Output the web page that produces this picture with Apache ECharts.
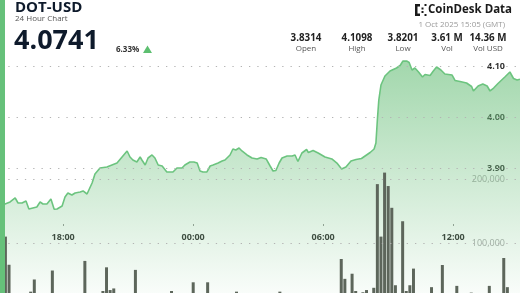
<!DOCTYPE html>
<html><head><meta charset="utf-8">
<script src="https://cdn.jsdelivr.net/npm/echarts@6/dist/echarts.min.js"></script>
<style>html,body{margin:0;padding:0;background:#fff}#c{width:520px;height:293px}</style>
</head><body><div id="c"></div>
<script>
// minutes since 30 Sep 15:05 (GMT)
const priceMinutes = [0,14,28,42,50,61,72,80,91,102,111,119,130,141,150,158,172,180,188,199,208,222,230,241,255,263,277,296,310,324,338,352,360,368,379,388,393,402,410,421,429,438,449,454,462,471,479,490,504,512,526,537,546,554,562,573,582,590,604,615,623,637,645,653,662,670,684,698,712,723,737,748,756,764,773,781,795,809,817,825,836,849,854,867,881,900,919,933,946,958,972,986,1001,1015,1025,1036,1041,1045,1049,1055,1066,1080,1098,1108,1116,1127,1133,1141,1149,1159,1170,1177,1191,1200,1209,1221,1232,1252,1260,1274,1292,1306,1311,1324,1337,1349,1357,1367,1379,1398,1412,1422,1432,1440];
const prices = [3.8314,3.8305,3.8344,3.8422,3.8324,3.8324,3.8363,3.8207,3.8227,3.8246,3.8344,3.8305,3.8305,3.8402,3.8201,3.8207,3.8266,3.8441,3.8520,3.8480,3.8520,3.8539,3.8559,3.8500,3.8715,3.8891,3.9008,3.9027,3.9066,3.9105,3.9223,3.9340,3.9223,3.9164,3.9125,3.9223,3.9164,3.9066,3.9203,3.9262,3.9203,3.9066,3.9047,3.9066,3.8930,3.8930,3.8930,3.9008,3.9008,3.9066,3.9125,3.9125,3.9105,3.8949,3.8930,3.8930,3.9047,3.9066,3.9105,3.9145,3.9164,3.9262,3.9379,3.9359,3.9398,3.9340,3.9262,3.9203,3.9184,3.9213,3.9184,3.9047,3.8949,3.8959,3.9105,3.9203,3.9242,3.9242,3.9262,3.9135,3.9301,3.9369,3.9311,3.9350,3.9301,3.9223,3.9184,3.9105,3.8988,3.9027,3.9145,3.9174,3.9194,3.9262,3.9311,3.9379,3.9496,3.9945,4.0336,4.0629,4.0805,4.0902,4.0961,4.1010,4.1098,4.1095,4.1068,4.0922,4.0961,4.0883,4.0785,4.0834,4.0814,4.0902,4.0980,4.0922,4.0844,4.0824,4.0717,4.0697,4.0668,4.0600,4.0512,4.0609,4.0648,4.0609,4.0512,4.0570,4.0658,4.0785,4.0883,4.0756,4.0727,4.0741];
// 10-minute volume buckets (DOT)
const volumes = [18000,110000,66000,12000,9000,15000,8000,11000,24000,43000,
  14000,10000,7000,16000,57000,12000,9000,13000,8000,10000,
  6000,11000,15000,72000,13000,9000,12000,17000,25000,62000,
  26500,29000,14000,10000,8000,12000,16000,58000,11000,9000,
  7000,13000,10000,8000,12000,15000,9000,25000,11000,8000,
  6000,10000,14000,38600,12000,9000,11000,38600,13000,8000,
  7000,10000,12000,9000,15000,24000,11000,8000,6000,9000,
  10000,7000,12000,8000,11000,14000,9000,24000,10000,7000,
  9000,12000,8000,11000,13000,7000,10000,9000,14000,12000,
  16000,11000,18000,15000,75000,44000,20000,52000,25000,17000,
  23000,26500,19000,30000,192000,110000,210000,189000,155000,34000,
  21000,134000,25000,34000,60000,18000,14000,12000,16000,31000,
  13000,15000,65600,12000,10000,17000,33000,11000,9000,14000,
  22500,12000,10000,8000,13000,33000,11000,15000,12000,76600,
  31000,14000,10000,12000];
const priceTicks = [3.9, 4.0, 4.1];
const volTicks = [100000, 200000];
const timeTicks = [175, 535, 895, 1255]; // 18:00, 00:00, 06:00, 12:00
const header = {symbol:'DOT-USD', sub:'24 Hour Chart', last:'4.0741', change:'6.33%', date:'1 Oct 2025 15:05 (GMT)'};
const statValues = ['3.8314','4.1098','3.8201','3.61 M','14.36 M'];
const statLabels = ['Open','High','Low','Vol','Vol USD'];

const FONT = "'Open Sans', 'Noto Sans', sans-serif";
const chart = echarts.init(document.getElementById('c'), null, {renderer:'canvas'});
const dotted = {color:'#b3b3b3', width:1, type:[1.3,7]};
const fmtTime = m => { const t = (905 + m) % 1440; const h = Math.floor(t/60), mm = t % 60; return String(h).padStart(2,'0') + ':' + String(mm).padStart(2,'0'); };

const statX = [306, 357, 403, 447, 488];
const txt = (s, x, y, font, fill, align) => ({type:'text', x:x, y:y, style:{text:s, font:font, fill:fill, align:align||'left', verticalAlign:'middle'}});
const graphic = [
  txt(header.symbol, 15, 7.5, 'bold 15px ' + FONT, '#0e1a2b'),
  txt(header.sub, 15, 18.5, '8px ' + FONT, '#555'),
  txt(header.last, 14, 41.5, 'bold 27px ' + FONT, '#0e1a2b'),
  txt(header.change, 116, 49.5, 'bold 8px ' + FONT, '#333'),
  {type:'polygon', shape:{points:[[143,53],[152,53],[147.5,45.5]]}, style:{fill:'#5dbf70'}},
  // CoinDesk Data logo
  {type:'rect', shape:{x:415, y:4, width:2.5, height:12}, style:{fill:'#1a1a1a'}},
  {type:'rect', shape:{x:415, y:4, width:5, height:2.5}, style:{fill:'#1a1a1a'}},
  {type:'rect', shape:{x:415, y:13.5, width:5, height:2.5}, style:{fill:'#1a1a1a'}},
  {type:'rect', shape:{x:421.5, y:7.5, width:2, height:2}, style:{fill:'#1a1a1a'}},
  {type:'rect', shape:{x:421.5, y:11, width:2, height:2}, style:{fill:'#1a1a1a'}},
  {type:'rect', shape:{x:424.5, y:4, width:2, height:2}, style:{fill:'#1a1a1a'}},
  {type:'rect', shape:{x:424.5, y:14, width:2, height:2}, style:{fill:'#1a1a1a'}},
  txt('CoinDesk Data', 428, 10, 'bold 11.5px ' + FONT, '#1a1a1a'),
  txt(header.date, 505, 25, '8px ' + FONT, '#9a9a9a', 'right')
];
statValues.forEach((v,i) => {
  graphic.push(txt(v, statX[i], 38, 'bold 9.8px ' + FONT, '#222', 'center'));
  graphic.push(txt(statLabels[i], statX[i], 48.5, '8px ' + FONT, '#555', 'center'));
});
graphic.push({type:'rect', shape:{x:0, y:0, width:5, height:293}, style:{fill:'#66c17a'}, z:100});

// price scale: 4.10 at y=66, 512 px per 1.0 ; grid spans y 14.8 .. 293
const PRICE_MAX = 4.2, PRICE_MIN = 4.2 - 278.2/512;
// volume scale: 64 px per 100,000 ; grid spans y 166.2 .. 293
const VOL_MAX = 220000, VOL_MIN = 220000 - 126.8/64*100000;

const xBase = {type:'value', min:0, max:1440, show:false};
chart.setOption({
  animation:false,
  backgroundColor:'#fff',
  graphic: graphic,
  grid:[
    {left:0, right:0, top:14.8, bottom:0},
    {left:0, right:0, top:166.2, bottom:0},
    {left:0, right:0, top:0, height:224}
  ],
  xAxis:[
    Object.assign({gridIndex:0}, xBase),
    Object.assign({gridIndex:1}, xBase),
    {gridIndex:2, type:'value', min:0, max:1440, axisLine:{show:false}, splitLine:{show:false},
     axisTick:{show:true, customValues:timeTicks, length:2, lineStyle:{color:'#999'}},
     axisLabel:{customValues:timeTicks, formatter:fmtTime, margin:9, fontSize:9, fontWeight:'bold', color:'#333', fontFamily:FONT}}
  ],
  yAxis:[
    {gridIndex:0, type:'value', min:PRICE_MIN, max:PRICE_MAX, position:'right', splitLine:{show:false},
     axisLine:{show:false}, axisTick:{show:false},
     axisLabel:{customValues:priceTicks, inside:true, margin:15, fontSize:9, fontWeight:'bold', color:'#333', fontFamily:FONT,
       formatter: v => v.toFixed(2)}},
    {gridIndex:1, type:'value', min:VOL_MIN, max:VOL_MAX, position:'right',
     splitLine:{show:false}, axisLine:{show:false}, axisTick:{show:false},
     axisLabel:{customValues:volTicks, inside:true, margin:15, fontSize:9, color:'#a8a8a8', fontFamily:FONT,
       formatter: v => v.toLocaleString('en-US')}},
    {gridIndex:2, type:'value', show:false, min:0, max:1}
  ],
  series:[
    {type:'line', xAxisIndex:0, yAxisIndex:0, symbol:'none', z:2,
     data: priceMinutes.map((t,i)=>[t, prices[i]]),
     lineStyle:{color:'#6cc47f', width:1.6},
     areaStyle:{origin:'start', color:new echarts.graphic.LinearGradient(0,0,0,1,[
       {offset:0, color:'rgba(108,192,124,0.9)'},
       {offset:1, color:'rgba(108,192,124,0.06)'}])},
     markLine:{silent:true, symbol:'none', label:{show:false}, lineStyle:dotted,
       data: priceTicks.map(v=>({yAxis:v}))}},
    {type:'bar', xAxisIndex:1, yAxisIndex:1, barWidth:3, z:3,
     itemStyle:{color:'#5d665b'},
     data: volumes.map((v,i)=>[5 + i*10, v]),
     markLine:{silent:true, symbol:'none', label:{show:false}, lineStyle:dotted,
       data: volTicks.map(v=>({yAxis:v}))}}
  ]
});
</script></body></html>
